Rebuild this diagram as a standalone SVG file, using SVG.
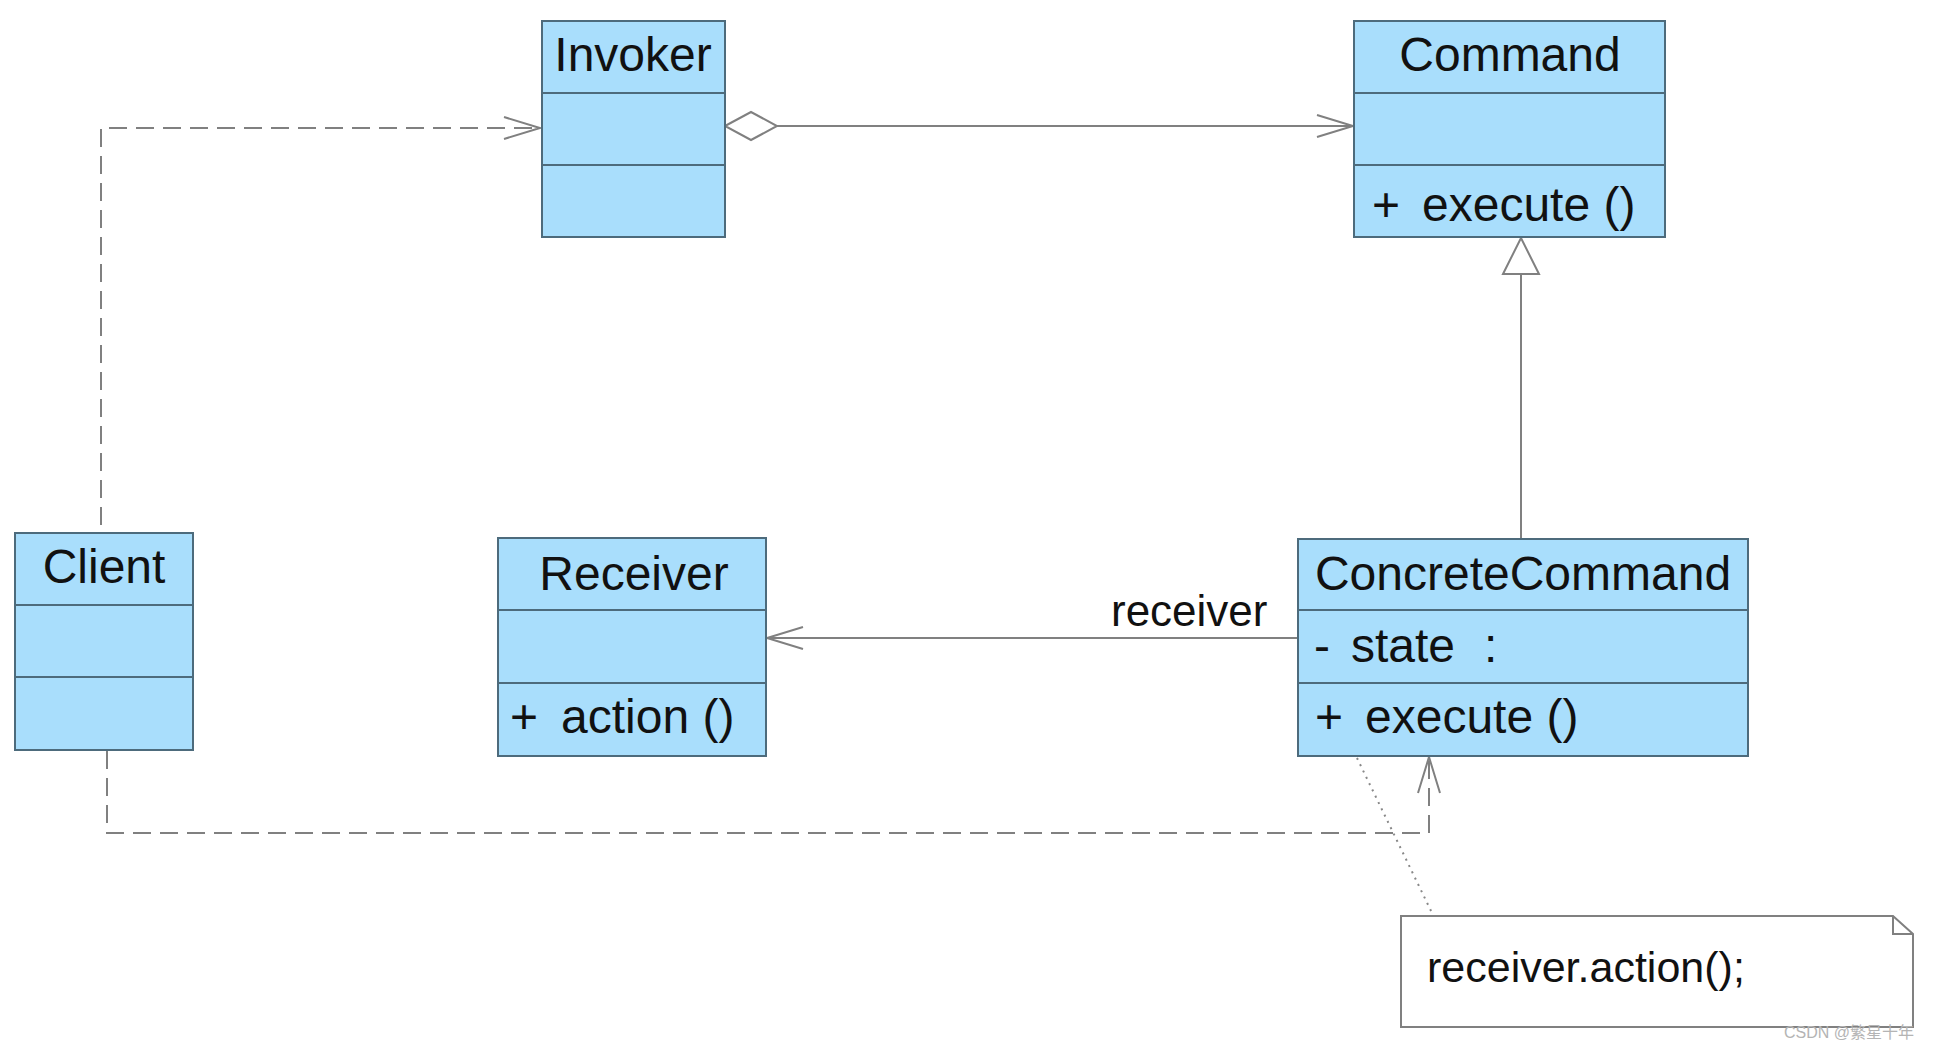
<svg xmlns="http://www.w3.org/2000/svg" width="1934" height="1051" viewBox="0 0 1934 1051">
<style>
.box{fill:#A9DEFC;stroke:#4d6b7c;stroke-width:2}
.div{stroke:#4d6b7c;stroke-width:2}
.t{font-family:"Liberation Sans",Arial,sans-serif;font-size:48px;fill:#111}
.tc{text-anchor:middle}
.ln{fill:none;stroke:#808080;stroke-width:2}
.dash{stroke-dasharray:18 9}
.dot{stroke-dasharray:2 5;stroke:#888}
.lbl{font-family:"Liberation Sans",Arial,sans-serif;font-size:44px;fill:#111}
.note{fill:#fff;stroke:#808080;stroke-width:2}
.wm{font-family:"Liberation Sans","Noto Sans CJK SC",sans-serif;font-size:16px;fill:#b4b4b4}
</style>
<defs>
<marker id="open" markerUnits="userSpaceOnUse" markerWidth="40" markerHeight="26" refX="36" refY="12" orient="auto" overflow="visible">
<path d="M0,1 L36,12 L0,23" fill="none" stroke="#808080" stroke-width="2"/>
</marker>
<marker id="diamond" markerUnits="userSpaceOnUse" markerWidth="56" markerHeight="32" refX="0" refY="14" orient="auto" overflow="visible">
<path d="M0,14 L26,0 L52,14 L26,28 Z" fill="#fff" stroke="#808080" stroke-width="2"/>
</marker>
<marker id="tri" markerUnits="userSpaceOnUse" markerWidth="40" markerHeight="40" refX="36" refY="18" orient="auto" overflow="visible">
<path d="M0,0 L36,18 L0,36 Z" fill="#fff" stroke="#808080" stroke-width="2"/>
</marker>
</defs>
<rect width="1934" height="1051" fill="#fff"/>

<g id="connectors">
<path class="ln dash" d="M101,525 V128 H540" marker-end="url(#open)"/>
<path class="ln" d="M725,126 H1353" marker-start="url(#diamond)" marker-end="url(#open)"/>
<path class="ln" d="M1521,539 V238" marker-end="url(#tri)"/>
<path class="ln" d="M1298,638 H767" marker-end="url(#open)"/>
<path class="ln dash" d="M107,751 V833 H1429 V757" marker-end="url(#open)"/>
<path class="ln dot" d="M1357,758 L1433,915"/>
<text class="lbl" x="1111" y="626">receiver</text>
</g>

<g id="invoker">
<rect class="box" x="542" y="21" width="183" height="216"/>
<line class="div" x1="542" y1="93" x2="725" y2="93"/>
<line class="div" x1="542" y1="165" x2="725" y2="165"/>
<text class="t tc" x="633" y="71">Invoker</text>
</g>

<g id="command">
<rect class="box" x="1354" y="21" width="311" height="216"/>
<line class="div" x1="1354" y1="93" x2="1665" y2="93"/>
<line class="div" x1="1354" y1="165" x2="1665" y2="165"/>
<text class="t tc" x="1510" y="71">Command</text>
<text class="t" x="1372" y="221">+</text>
<text class="t" x="1422" y="221">execute ()</text>
</g>

<g id="client">
<rect class="box" x="15" y="533" width="178" height="217"/>
<line class="div" x1="15" y1="605" x2="193" y2="605"/>
<line class="div" x1="15" y1="677" x2="193" y2="677"/>
<text class="t tc" x="104" y="583">Client</text>
</g>

<g id="receiver">
<rect class="box" x="498" y="538" width="268" height="218"/>
<line class="div" x1="498" y1="610" x2="766" y2="610"/>
<line class="div" x1="498" y1="683" x2="766" y2="683"/>
<text class="t tc" x="634" y="590">Receiver</text>
<text class="t" x="510" y="733">+</text>
<text class="t" x="561" y="733">action ()</text>
</g>

<g id="concretecommand">
<rect class="box" x="1298" y="539" width="450" height="217"/>
<line class="div" x1="1298" y1="610" x2="1748" y2="610"/>
<line class="div" x1="1298" y1="683" x2="1748" y2="683"/>
<text class="t tc" x="1523" y="590">ConcreteCommand</text>
<text class="t" x="1314" y="662">-</text>
<text class="t" x="1351" y="662">state</text>
<text class="t" x="1484" y="662">:</text>
<text class="t" x="1315" y="733">+</text>
<text class="t" x="1365" y="733">execute ()</text>
</g>

<g id="note">
<path class="note" d="M1401,916 H1893 L1913,934 V1027 H1401 Z"/>
<path class="ln" d="M1893,916 V934 H1913"/>
<text class="lbl" x="1427" y="982" style="font-size:43px">receiver.action();</text>
</g>

<text class="wm" x="1784" y="1038">CSDN @繁星十年</text>
</svg>
